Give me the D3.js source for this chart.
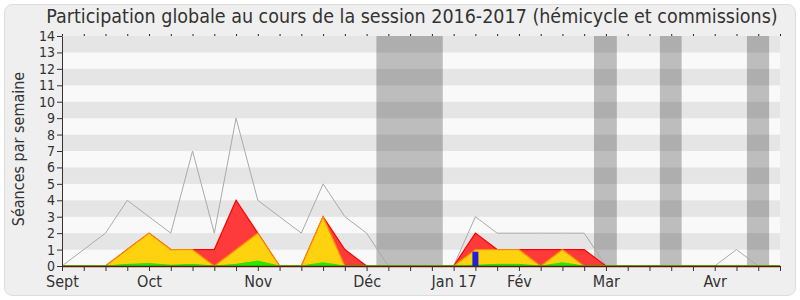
<!DOCTYPE html>
<html>
<head>
<meta charset="utf-8">
<script src="https://cdn.jsdelivr.net/npm/d3@7"></script>
<style>
  body { margin: 0; background: #ffffff; }
  svg text { font-family: "DejaVu Sans Condensed", "DejaVu Sans", sans-serif; fill: #333; }
</style>
</head>
<body>
<svg id="chart" width="800" height="300"></svg>
<script>
// one value per week, week 0 = start of Sept 2016
const weeks = d3.range(34);
const totalSeances = [0,1,2,4,3,2,7,2,9,4,3,2,5,3,2,0,0,0,0,3,2,2,2,2,2,0,0,0,0,0,0,1,0,0];
const presenceRed = [0,0,0,1,2,1,1,1,4,2,0,0,3,1,0,0,0,0,0,2,1,1,1,1,1,0,0,0,0,0,0,0,0,0];
const presenceYellow = [0,0,0,1,2,1,1,0,1,2,0,0,3,0,0,0,0,0,0,1,1,1,0,1,0,0,0,0,0,0,0,0,0,0];
const presenceGreen = [0,0,0,0.1,0.15,0.05,0.1,0,0.1,0.3,0,0,0.2,0,0,0,0,0,0,0.05,0.1,0.1,0,0.2,0,0,0,0,0,0,0,0,0,0];
const blueWeeks = [19];
const blueValues = [0.87];
// vacation periods, in weeks
const vacations = [[14.45, 17.5], [24.45, 25.5], [27.48, 28.48], [31.48, 32.5]];
const monthWeeks = [0, 4, 9, 14, 18, 21, 25, 30];
const monthLabels = ["Sept", "Oct", "Nov", "Déc", "Jan 17", "Fév", "Mar", "Avr"];
const yTicks = d3.range(0, 15);

const svg = d3.select("#chart");
const mLeft = 62, mRight = 780, mTop = 36, mBottom = 266;

svg.append("rect")
  .attr("x", 4.5).attr("y", 4.5).attr("width", 791).attr("height", 291)
  .attr("rx", 8).attr("fill", "#efefef").attr("stroke", "#dcdcdc");

const x = d3.scaleLinear().domain([0, 33]).range([mLeft, mRight]);
const y = d3.scaleLinear().domain([0, 14]).range([mBottom, mTop]);

// stripes
svg.append("g").selectAll("rect")
  .data(d3.range(0, 14))
  .enter().append("rect")
  .attr("x", mLeft).attr("width", mRight - mLeft)
  .attr("y", d => y(d + 1)).attr("height", d => y(d) - y(d + 1))
  .attr("fill", d => d % 2 === 0 ? "#f9f9f9" : "#e5e5e5");

// vacation bands
svg.append("g").selectAll("rect")
  .data(vacations)
  .enter().append("rect")
  .attr("x", d => x(d[0])).attr("width", d => x(d[1]) - x(d[0]))
  .attr("y", mTop).attr("height", mBottom - mTop)
  .attr("fill", "rgba(0,0,0,0.24)");

// total line
const line = d3.line().x((d, i) => x(weeks[i])).y(d => y(d));
svg.append("path")
  .datum(totalSeances)
  .attr("d", line)
  .attr("fill", "none").attr("stroke", "#aaaaaa").attr("stroke-width", 1);

const area = d3.area().x((d, i) => x(weeks[i])).y0(y(0)).y1(d => y(d));

svg.append("path").datum(presenceRed).attr("d", area)
  .attr("fill", "#ff3a3a").attr("stroke", "#ff0000").attr("stroke-width", 1.2);
svg.append("path").datum(presenceYellow).attr("d", area)
  .attr("fill", "#ffd20f").attr("stroke", "#ff8a00").attr("stroke-width", 1.2);
svg.append("path").datum(presenceGreen).attr("d", area)
  .attr("fill", "#22ee00").attr("stroke", "#22dd00").attr("stroke-width", 0.8);

// blue bar
svg.append("g").selectAll("rect")
  .data(blueWeeks)
  .enter().append("rect")
  .attr("x", d => x(d) - 3).attr("width", 6)
  .attr("y", (d, i) => y(blueValues[i])).attr("height", (d, i) => y(0) - y(blueValues[i]))
  .attr("fill", "#2020d8");

// top tiny ticks
svg.append("g")
  .attr("transform", "translate(0," + mTop + ")")
  .call(d3.axisTop(x).tickValues(weeks).tickSize(2).tickFormat(""))
  .call(g => g.select(".domain").remove())
  .selectAll("line").attr("stroke", "#222");

// bottom axis: weekly ticks
svg.append("g")
  .attr("transform", "translate(0," + mBottom + ")")
  .call(d3.axisBottom(x).tickValues(weeks).tickSize(5).tickSizeOuter(0).tickFormat(""))
  .call(g => g.select(".domain").attr("stroke", "#5a1a08").attr("stroke-width", 1.5))
  .selectAll("line").attr("stroke", "#333");

// month labels
svg.append("g")
  .attr("transform", "translate(0," + mBottom + ")")
  .call(d3.axisBottom(x).tickValues(monthWeeks).tickSize(0).tickPadding(10)
    .tickFormat((d, i) => monthLabels[i]))
  .call(g => g.select(".domain").remove())
  .selectAll("text")
  .style("font-family", "'DejaVu Sans Condensed', 'DejaVu Sans', sans-serif")
  .style("font-size", "16px").attr("fill", "#333");

// y axis
svg.append("g")
  .attr("transform", "translate(" + mLeft + ",0)")
  .call(d3.axisLeft(y).tickValues(yTicks).tickSize(5).tickSizeOuter(0).tickPadding(2))
  .call(g => g.select(".domain").attr("stroke", "#333"))
  .call(g => g.selectAll("line").attr("stroke", "#333"))
  .selectAll("text")
  .style("font-family", "'DejaVu Sans Condensed', 'DejaVu Sans', sans-serif")
  .style("font-size", "14px").attr("fill", "#333");

svg.append("text")
  .attr("transform", "translate(24,149) rotate(-90)")
  .attr("text-anchor", "middle")
  .style("font-size", "16px")
  .text("Séances par semaine");

svg.append("text")
  .attr("x", 412).attr("y", 23)
  .attr("text-anchor", "middle")
  .style("font-size", "19.5px")
  .text("Participation globale au cours de la session 2016-2017 (hémicycle et commissions)");
</script>
</body>
</html>
